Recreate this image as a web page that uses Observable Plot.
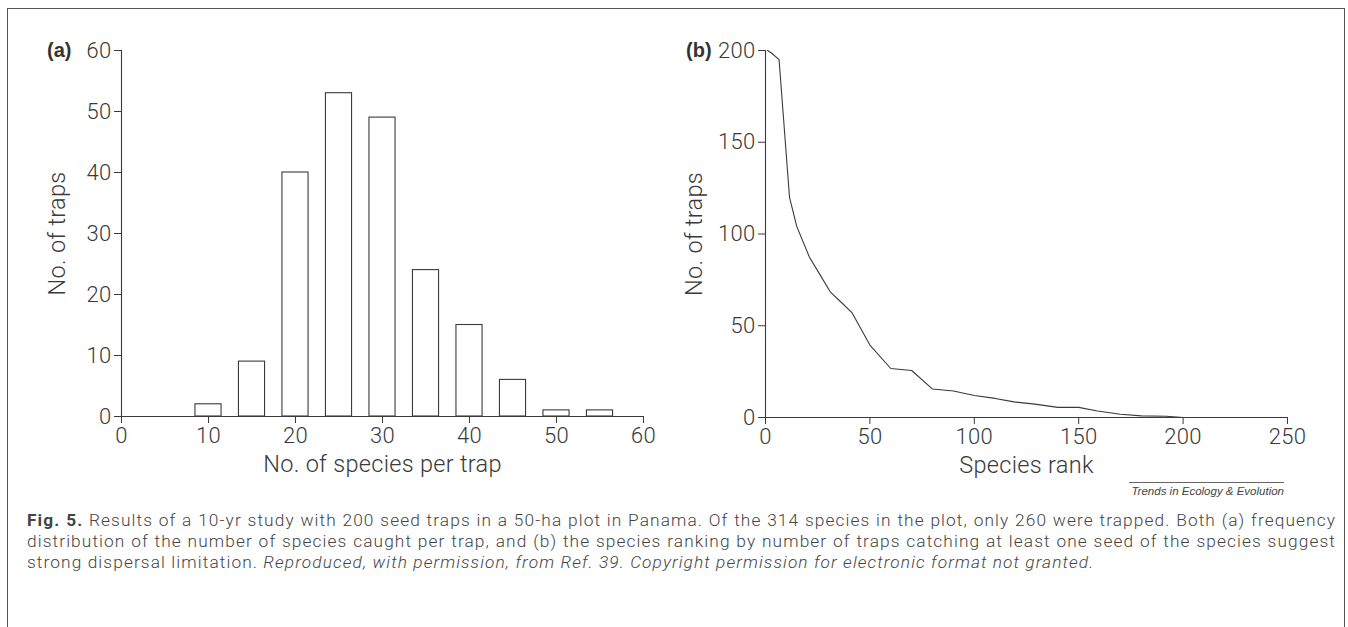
<!DOCTYPE html>
<html>
<head>
<meta charset="utf-8">
<script src="https://cdn.jsdelivr.net/npm/d3@7"></script>
<script src="https://cdn.jsdelivr.net/npm/@observablehq/plot@0.6"></script>
<style>
  html, body { margin: 0; padding: 0; background: #fff; }
  body { width: 1348px; height: 627px; position: relative; overflow: hidden; font-family: Roboto, "Liberation Sans", sans-serif; color: #3a3a3a; }
  #frame { position: absolute; left: 7px; top: 8px; width: 1336px; height: 700px; border: 1.5px solid #555; border-bottom: none; }
  .panel { position: absolute; top: 0; }
  .tag { position: absolute; font-weight: bold; font-size: 20px; color: #333; font-family: "Liberation Sans", Arial, sans-serif; }
  #source { position: absolute; left: 1100px; top: 482px; width: 184px; text-align: right; font-style: italic; font-size: 11.5px; color: #444; font-family: "Liberation Sans", Arial, sans-serif; }
  #source span { border-top: 1px solid #666; padding-top: 2px; display: inline-block; padding-left: 2px; }
  #caption { position: absolute; left: 27px; top: 510px; width: 1309px; font-size: 17.3px; letter-spacing: 1.1px; line-height: 21px; color: #444; font-weight: 300; }
  #caption .ln { text-align: justify; text-align-last: justify; white-space: nowrap; }
  #caption .ln.last { text-align-last: left; }
</style>
</head>
<body>
<div id="frame"></div>
<div id="pa" class="panel" style="left:0px"></div>
<div id="pb" class="panel" style="left:680px"></div>
<div class="tag" style="left:47px; top:39px">(a)</div>
<div class="tag" style="left:686px; top:39px">(b)</div>
<div id="source"><span>Trends in Ecology &amp; Evolution</span></div>
<div id="caption">
  <div class="ln"><b style="font-weight:700">Fig. 5.</b> Results of a 10-yr study with 200 seed traps in a 50-ha plot in Panama. Of the 314 species in the plot, only 260 were trapped. Both (a) frequency</div>
  <div class="ln">distribution of the number of species caught per trap, and (b) the species ranking by number of traps catching at least one seed of the species suggest</div>
  <div class="ln last">strong dispersal limitation. <i>Reproduced, with permission, from Ref. 39. Copyright permission for electronic format not granted.</i></div>
</div>
<script>
// Panel (a): frequency distribution of species per trap
const speciesPerTrap = [10, 15, 20, 25, 30, 35, 40, 45, 50, 55];
const trapCount = [2, 9, 40, 53, 49, 24, 15, 6, 1, 1];
const ticksA = [0, 10, 20, 30, 40, 50, 60];

// Panel (b): species rank curve
const speciesRank = [1, 3, 6.5, 11.5, 15, 21, 26, 31, 37, 41.5, 50, 60, 70, 80, 90, 100, 110, 119, 129, 140, 150, 159, 170, 180, 192, 200];
const trapsCatching = [200, 198.5, 195, 120, 104, 87.5, 78, 68.5, 62, 57, 39.5, 26.7, 25.6, 15.5, 14.4, 12, 10.4, 8.5, 7.3, 5.5, 5.5, 3.5, 1.8, 0.9, 0.7, 0];
const ticksBX = [0, 50, 100, 150, 200, 250];
const ticksBY = [0, 50, 100, 150, 200];

const ink = "#3a3a3a";
const style = {fontFamily: "Roboto, 'Liberation Sans', sans-serif", fontSize: "22px", letterSpacing: "0.3px", color: ink, background: "transparent", fontWeight: 300};
const labelSize = 23.5;

const barsA = speciesPerTrap.map((c, i) => ({c, n: trapCount[i]}));
const halfW = 1.5;

const plotA = Plot.plot({
  width: 680, height: 490,
  marginLeft: 121, marginRight: 37, marginTop: 50, marginBottom: 74,
  style,
  x: {domain: [0, 60]},
  y: {domain: [0, 60]},
  marks: [
    Plot.rectY(barsA, {x1: d => d.c - halfW, x2: d => d.c + halfW, y: "n", fill: "white", stroke: ink, strokeWidth: 1.1}),
    Plot.ruleY([0], {x1: 0, x2: 60, stroke: ink, strokeWidth: 1.1}),
    Plot.ruleX([0], {y1: 0, y2: 60, stroke: ink, strokeWidth: 1.1}),
    Plot.axisX({ticks: ticksA, tickSize: 7, tickPadding: 4, label: null, stroke: ink}),
    Plot.axisY({ticks: ticksA, tickSize: 7, tickPadding: 3, label: null, stroke: ink}),
    Plot.text(["No. of species per trap"], {frameAnchor: "bottom", dy: 55, fill: ink, fontSize: labelSize}),
    Plot.text(["No. of traps"], {frameAnchor: "left", textAnchor: "middle", dx: -64, rotate: -90, fill: ink, fontSize: labelSize})
  ]
});
document.getElementById("pa").append(plotA);

const lineB = speciesRank.map((r, i) => ({r, t: trapsCatching[i]}));
const plotB = Plot.plot({
  width: 668, height: 490,
  marginLeft: 85, marginRight: 61, marginTop: 50, marginBottom: 73,
  style,
  x: {domain: [0, 250]},
  y: {domain: [0, 200]},
  marks: [
    Plot.ruleY([0], {x1: 0, x2: 250, stroke: ink, strokeWidth: 1.1}),
    Plot.ruleX([0], {y1: 0, y2: 200, stroke: ink, strokeWidth: 1.1}),
    Plot.line(lineB, {x: "r", y: "t", stroke: ink, strokeWidth: 1.1}),
    Plot.axisX({ticks: ticksBX, tickSize: 7, tickPadding: 4, label: null, stroke: ink}),
    Plot.axisY({ticks: ticksBY, tickSize: 7, tickPadding: 3, label: null, stroke: ink}),
    Plot.text(["Species rank"], {frameAnchor: "bottom", dy: 55, fill: ink, fontSize: labelSize}),
    Plot.text(["No. of traps"], {frameAnchor: "left", textAnchor: "middle", dx: -71, rotate: -90, fill: ink, fontSize: labelSize})
  ]
});
document.getElementById("pb").append(plotB);
</script>
</body>
</html>
